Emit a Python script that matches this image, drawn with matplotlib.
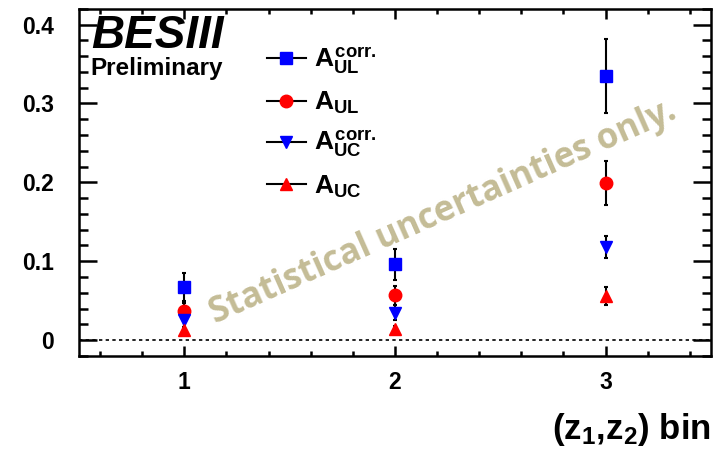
import matplotlib
matplotlib.use("Agg")
import matplotlib.pyplot as plt
from matplotlib.lines import Line2D
from matplotlib.ticker import MultipleLocator

# ROOT-ish look: bold Arial-like text everywhere
plt.rcParams['font.family'] = 'Liberation Sans'
plt.rcParams['font.weight'] = 'bold'
plt.rcParams['mathtext.fontset'] = 'custom'
plt.rcParams['mathtext.rm'] = 'Liberation Sans:bold'
plt.rcParams['mathtext.it'] = 'Liberation Sans:bold'
plt.rcParams['mathtext.bf'] = 'Liberation Sans:bold'

# --- data ---
bins = [1, 2, 3]
a_ul_corr = [0.067, 0.096, 0.335]
a_ul_corr_err = [0.018, 0.020, 0.047]
a_ul = [0.037, 0.057, 0.199]
a_ul_err = [0.010, 0.012, 0.028]
a_uc_corr = [0.025, 0.035, 0.118]
a_uc_corr_err = [0.008, 0.009, 0.014]
a_uc = [0.013, 0.014, 0.056]
a_uc_err = [0.003, 0.004, 0.011]

series = [
    (a_ul_corr, a_ul_corr_err, 's', 'blue', r'$A_{UL}^{corr.}$', 9),
    (a_ul, a_ul_err, 'o', 'red', r'$A_{UL}$', 9),
    (a_uc_corr, a_uc_corr_err, 'v', 'blue', r'$A_{UC}^{corr.}$', 8),
    (a_uc, a_uc_err, '^', 'red', r'$A_{UC}$', 8),
]

fig = plt.figure(figsize=(7.24, 4.61), dpi=100)
ax = fig.add_axes([0.109, 0.228, 0.873, 0.753])

ax.axhline(0, color='black', lw=1.2, ls=(0, (2, 2)), zorder=1)

handles = []
for vals, errs, mk, col, lab, ms in series:
    ax.errorbar(bins, vals, yerr=errs, fmt='none', ecolor='black',
                elinewidth=1.5, capsize=1.5, capthick=1.5, zorder=2)
    ax.plot(bins, vals, ls='none', marker=mk, color=col, ms=ms, zorder=3)
    handles.append(Line2D([], [], color='black', lw=1.5, marker=mk,
                          markerfacecolor=col, markeredgecolor=col, ms=ms, label=lab))

ax.set_xlim(0.5, 3.5)
ax.set_ylim(-0.02, 0.42)
ax.xaxis.set_major_locator(MultipleLocator(1))
ax.xaxis.set_minor_locator(MultipleLocator(0.2))
ax.yaxis.set_major_locator(MultipleLocator(0.1))
ax.yaxis.set_minor_locator(MultipleLocator(0.02))
ax.set_yticks([0, 0.1, 0.2, 0.3, 0.4])
ax.set_yticklabels(['0', '0.1', '0.2', '0.3', '0.4'])

for s in ax.spines.values():
    s.set_linewidth(1.8)
ax.tick_params(axis='both', which='both', direction='in', top=True, right=True,
               width=1.8, labelsize=16.5)
ax.tick_params(axis='y', which='major', length=13, pad=18)
ax.tick_params(axis='y', which='minor', length=6.5)
ax.tick_params(axis='x', which='major', length=7.5, pad=11)
ax.tick_params(axis='x', which='minor', length=3.8)

ax.set_xlabel('(z$_1$,z$_2$) bin', fontsize=25, fontweight='bold',
              loc='right', labelpad=12)

ax.legend(handles=handles, loc='upper left', bbox_to_anchor=(0.272, 0.94),
          frameon=False, fontsize=19, handlelength=1.5, handletextpad=0.3,
          labelspacing=0.5, borderaxespad=0.2)

ax.text(0.02, 0.985, 'BESIII', transform=ax.transAxes, fontsize=33,
        style='italic', weight='bold', ha='left', va='top')
ax.text(0.018, 0.86, 'Preliminary', transform=ax.transAxes, fontsize=17.5,
        weight='bold', ha='left', va='top')

ax.text(2.23, 0.162, 'Statistical uncertainties only.', fontsize=25,
        family='Open Sans', weight='bold', color='#C4BC96', rotation=24,
        ha='center', va='center', rotation_mode='anchor', zorder=0)

fig.savefig('out.png', dpi=100)
